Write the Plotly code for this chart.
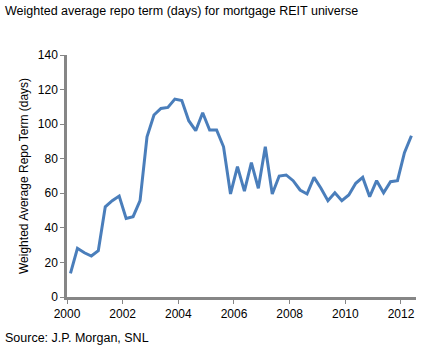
import plotly.graph_objects as go

title_text = "Weighted average repo term (days) for mortgage REIT universe"
y_title = "Weighted Average Repo Term (days)"
source_text = "Source: J.P. Morgan, SNL"

start_year = 2000
quarters = [f"{start_year + i // 4}Q{i % 4 + 1}" for i in range(50)]
repo_term_days = [
    13.7, 28.2, 25.6, 23.7, 26.8, 52.2, 55.7, 58.4, 45.5, 46.5,
    55.7, 92.7, 105.3, 109.1, 109.7, 114.5, 113.6, 102.0, 96.2, 106.6,
    96.6, 96.6, 86.9, 59.6, 75.4, 61.3, 77.7, 62.9, 86.9, 59.6,
    70.0, 70.6, 67.3, 61.9, 59.6, 69.2, 62.9, 55.7, 60.3, 55.7,
    59.0, 65.8, 69.2, 58.0, 67.3, 60.3, 66.7, 67.3, 83.5, 93.3,
]
x_ticks = [2000, 2002, 2004, 2006, 2008, 2010, 2012]
y_ticks = [0, 20, 40, 60, 80, 100, 120, 140]

# quarter label -> decimal year at mid-quarter
x_vals = [int(q[:4]) + (int(q[-1]) - 1) * 0.25 + 0.125 for q in quarters]

FONT = "Liberation Sans, Arial, sans-serif"
AXIS_COLOR = "#868686"

fig = go.Figure(
    go.Scatter(
        x=x_vals,
        y=repo_term_days,
        mode="lines",
        line=dict(color="#4a7ebb", width=3),
        hoverinfo="skip",
    )
)

W, H = 424, 358
L, R, T, B = 67, 8, 55, 61
pw = W - L - R
ph = H - T - B

fig.update_layout(
    width=W,
    height=H,
    margin=dict(l=L, r=R, t=T, b=B),
    paper_bgcolor="white",
    plot_bgcolor="white",
    showlegend=False,
    font=dict(family=FONT, size=12, color="black"),
    xaxis=dict(
        range=[2000, 2012.54],
        tickvals=x_ticks,
        ticktext=[str(v) for v in x_ticks],
        showgrid=False,
        zeroline=False,
        showline=True,
        linecolor=AXIS_COLOR,
        linewidth=2.5,
        ticks="outside",
        ticklen=4,
        tickcolor=AXIS_COLOR,
        tickwidth=1,
        tickfont=dict(family=FONT, size=12, color="black"),
        fixedrange=True,
    ),
    yaxis=dict(
        range=[0, 140],
        tickvals=y_ticks,
        showgrid=False,
        zeroline=False,
        showline=True,
        linecolor=AXIS_COLOR,
        linewidth=2.5,
        ticks="outside",
        ticklen=4,
        tickcolor=AXIS_COLOR,
        tickwidth=1,
        tickfont=dict(family=FONT, size=12, color="black"),
        fixedrange=True,
    ),
    annotations=[
        dict(
            text=title_text,
            xref="paper", yref="paper",
            x=(3 - L) / pw, y=(H - B - 11) / ph,
            xanchor="left", yanchor="middle",
            showarrow=False,
            font=dict(family=FONT, size=12.5, color="black"),
        ),
        dict(
            text=y_title,
            xref="paper", yref="paper",
            x=(24 - L) / pw, y=0.5,
            xanchor="center", yanchor="middle",
            textangle=-90,
            showarrow=False,
            font=dict(family=FONT, size=12, color="black"),
        ),
        dict(
            text=source_text,
            xref="paper", yref="paper",
            x=(3 - L) / pw, y=-(338 - (H - B)) / ph,
            xanchor="left", yanchor="middle",
            showarrow=False,
            font=dict(family=FONT, size=12.5, color="black"),
        ),
    ],
)

fig.write_html(
    "out.html",
    config={"displayModeBar": False},
    post_script=["document.body.style.margin='0px';"],
)
